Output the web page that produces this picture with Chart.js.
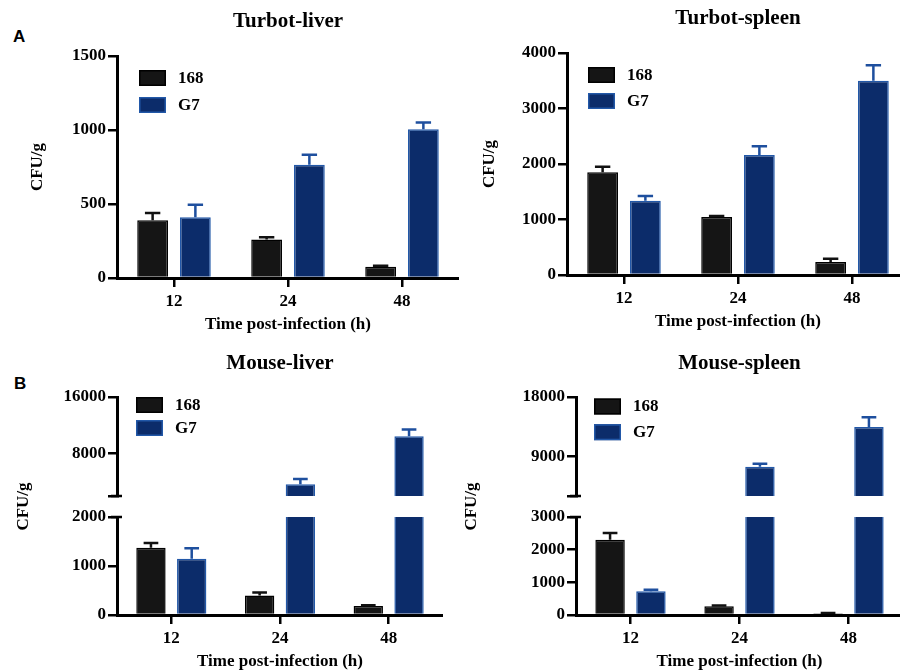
<!DOCTYPE html>
<html>
<head>
<meta charset="utf-8">
<script src="https://cdn.jsdelivr.net/npm/chart.js@4.4.1/dist/chart.umd.min.js"></script>
<style>
  html, body { margin: 0; padding: 0; background: #fff; }
  body { width: 900px; height: 670px; position: relative; overflow: hidden; }
  .panel { position: absolute; }
  .panel canvas { display: block; }
  .tag { position: absolute; font: bold 17px/17px "Liberation Sans", Arial, sans-serif; color: #000; }
</style>
</head>
<body>
<div class="tag" style="left:13px;top:28px">A</div>
<div class="tag" style="left:14px;top:375px">B</div>
<div class="panel" style="left:0;top:0"><canvas id="turbotLiver" width="459" height="340"></canvas></div>
<div class="panel" style="left:450px;top:0"><canvas id="turbotSpleen" width="459" height="338"></canvas></div>
<div class="panel" style="left:0;top:340px"><canvas id="mouseLiver" width="443" height="338"></canvas></div>
<div class="panel" style="left:450px;top:340px"><canvas id="mouseSpleen" width="453" height="338"></canvas></div>
<script>
// hours post-infection
const hours = ['12', '24', '48'];

// CFU/g, mean and upper error
const turbotLiver168 = [390, 260, 76];
const turbotLiver168Err = [50, 15, 6];
const turbotLiverG7 = [410, 765, 1005];
const turbotLiverG7Err = [85, 67, 45];

const turbotSpleen168 = [1850, 1045, 235];
const turbotSpleen168Err = [100, 20, 60];
const turbotSpleenG7 = [1340, 2160, 3500];
const turbotSpleenG7Err = [85, 160, 280];

const mouseLiver168 = [1370, 400, 185];
const mouseLiver168Err = [100, 60, 15];
const mouseLiverG7 = [1150, 3650, 10450];
const mouseLiverG7Err = [210, 750, 950];

const mouseSpleen168 = [2300, 270, 50];
const mouseSpleen168Err = [210, 20, 10];
const mouseSpleenG7 = [730, 7450, 13450];
const mouseSpleenG7Err = [40, 450, 1500];

// tick labels
const turbotLiverTicks = [0, 500, 1000, 1500];
const turbotSpleenTicks = [0, 1000, 2000, 3000, 4000];
const mouseLiverLowTicks = [0, 1000, 2000];
const mouseLiverHighTicks = [2000, 8000, 16000];
const mouseSpleenLowTicks = [0, 1000, 2000, 3000];
const mouseSpleenHighTicks = [3000, 9000, 18000];

const serif = '"Liberation Serif", "Times New Roman", serif';
const axisFont = { family: serif, size: 17, weight: 'bold' };
const titleFont = { family: serif, size: 21, weight: 'bold' };
const BLACK = '#151515';
const NAVY = '#0c2c6a';
const NAVY_EDGE = '#2258a8';

// each dataset only paints inside its own y axis (for the broken axes)
const clipToAxis = {
  id: 'clipToAxis',
  beforeDatasetDraw(chart, args) {
    const ys = chart.scales[args.meta.yAxisID];
    const a = chart.chartArea;
    chart.ctx.save();
    chart.ctx.beginPath();
    chart.ctx.rect(a.left, ys.top, a.right - a.left, ys.bottom - ys.top);
    chart.ctx.clip();
  },
  afterDatasetDraw(chart) {
    chart.ctx.restore();
  }
};

// upper half error bars
const errorBars = {
  id: 'errorBars',
  afterDatasetsDraw(chart) {
    const ctx = chart.ctx;
    chart.data.datasets.forEach((ds, i) => {
      const meta = chart.getDatasetMeta(i);
      const ys = chart.scales[meta.yAxisID];
      meta.data.forEach((bar, j) => {
        const v = ds.data[j], e = ds.errors[j];
        if (v < ys.min || v + e > ys.max) return;
        const y0 = ys.getPixelForValue(v);
        const y1 = ys.getPixelForValue(v + e);
        const half = bar.width / 4;
        ctx.save();
        ctx.strokeStyle = ds.errorColor;
        ctx.lineWidth = 2.5;
        ctx.beginPath();
        ctx.moveTo(bar.x, y0);
        ctx.lineTo(bar.x, y1);
        ctx.moveTo(bar.x - half, y1);
        ctx.lineTo(bar.x + half, y1);
        ctx.stroke();
        ctx.restore();
      });
    });
  }
};

// small caps where the y axis is broken
const breakCaps = {
  id: 'breakCaps',
  afterDraw(chart) {
    const hi = chart.scales.yHigh, lo = chart.scales.yLow;
    if (!hi || !lo) return;
    const ctx = chart.ctx;
    const x = hi.right;
    ctx.save();
    ctx.strokeStyle = '#000';
    ctx.lineWidth = 2.5;
    ctx.beginPath();
    ctx.moveTo(x - 6, hi.bottom);
    ctx.lineTo(x + 5, hi.bottom);
    ctx.moveTo(x - 6, lo.top);
    ctx.lineTo(x + 5, lo.top);
    ctx.stroke();
    ctx.restore();
  }
};

// legend boxes inside the plot, top left
const boxLegend = {
  id: 'boxLegend',
  afterDraw(chart, args, opts) {
    const ctx = chart.ctx;
    const a = chart.chartArea;
    let k = 0;
    chart.data.datasets.forEach(ds => {
      if (ds.inLegend === false) return;
      const x = a.left + opts.dx;
      const y = a.top + opts.dy + k * opts.step;
      ctx.save();
      ctx.fillStyle = ds.backgroundColor;
      ctx.fillRect(x, y, 27, 16);
      ctx.strokeStyle = ds.borderColor;
      ctx.lineWidth = 1.5;
      ctx.strokeRect(x + 0.75, y + 0.75, 25.5, 14.5);
      ctx.fillStyle = '#000';
      ctx.font = 'bold 17px ' + serif;
      ctx.textBaseline = 'middle';
      ctx.fillText(ds.label, x + 39, y + 8.5);
      ctx.restore();
      k++;
    });
  }
};

function valueAxis(ticks, width, extra) {
  return Object.assign({
    type: 'linear',
    position: 'left',
    min: ticks[0],
    max: ticks[ticks.length - 1],
    stacked: false,
    afterBuildTicks: s => { s.ticks = ticks.map(v => ({ value: v })); },
    afterFit: s => { s.width = width; },
    ticks: { color: '#000', font: axisFont, padding: 2, autoSkip: false, callback: v => String(v) },
    grid: { display: true, drawOnChartArea: false, drawTicks: true, tickLength: 9, lineWidth: 2.5, color: '#000' },
    border: { display: true, color: '#000', width: 3, z: 1 }
  }, extra);
}

function yTitle(padTop) {
  return { display: true, text: 'CFU/g', color: '#000', font: axisFont, padding: { top: padTop, bottom: 0 } };
}

function hourAxis(height, titlePad) {
  return {
    type: 'category',
    position: 'bottom',
    offset: true,
    afterFit: s => { s.height = height; },
    grid: { display: true, offset: false, drawOnChartArea: false, tickLength: 9, lineWidth: 2.5, color: '#000' },
    border: { display: true, color: '#000', width: 3, z: 1 },
    ticks: { color: '#000', font: axisFont, padding: 4 },
    title: { display: true, text: 'Time post-infection (h)', color: '#000', font: axisFont, padding: { top: 0, bottom: titlePad } }
  };
}

function bars(label, data, errors, yAxisID, stack, extra) {
  const black = label === '168';
  return Object.assign({
    label, data, errors, yAxisID, stack,
    backgroundColor: black ? BLACK : NAVY,
    borderColor: black ? '#000' : NAVY_EDGE,
    borderWidth: 1.5,
    errorColor: black ? '#111' : '#1e4f9e'
  }, extra);
}

function baseOptions(title, titlePad, legend) {
  return {
    responsive: false,
    animation: false,
    layout: { padding: 0, autoPadding: false },
    datasets: { bar: { barPercentage: 0.72, categoryPercentage: 0.75 } },
    plugins: {
      legend: { display: false },
      tooltip: { enabled: false },
      title: { display: true, text: title, color: '#000', font: titleFont, fullSize: false, padding: titlePad },
      boxLegend: legend
    }
  };
}

const plugins = [clipToAxis, errorBars, breakCaps, boxLegend];

// Turbot-liver
const optTL = baseOptions('Turbot-liver', { top: 9.1, bottom: 21.7 }, { dx: 22, dy: 14, step: 27 });
optTL.scales = {
  x: hourAxis(62, 4.8),
  y: valueAxis(turbotLiverTicks, 117, { title: yTitle(27.8) })
};
new Chart(document.getElementById('turbotLiver'), {
  type: 'bar',
  data: {
    labels: hours,
    datasets: [
      bars('168', turbotLiver168, turbotLiver168Err, 'y', 'a'),
      bars('G7', turbotLiverG7, turbotLiverG7Err, 'y', 'b')
    ]
  },
  options: optTL,
  plugins
});

// Turbot-spleen
const optTS = baseOptions('Turbot-spleen', { top: 5.7, bottom: 22.1 }, { dx: 21, dy: 14, step: 26 });
optTS.scales = {
  x: hourAxis(63, 6.1),
  y: valueAxis(turbotSpleenTicks, 117, { title: yTitle(29.1) })
};
new Chart(document.getElementById('turbotSpleen'), {
  type: 'bar',
  data: {
    labels: hours,
    datasets: [
      bars('168', turbotSpleen168, turbotSpleen168Err, 'y', 'a'),
      bars('G7', turbotSpleenG7, turbotSpleenG7Err, 'y', 'b')
    ]
  },
  options: optTS,
  plugins
});

// broken y axis: upper part, gap (carries the title), lower part
function brokenScales(lowTicks, highTicks, width, titlePad) {
  return {
    x: hourAxis(63, 6.1),
    yHigh: valueAxis(highTicks, width, {
      stack: 'cfu', stackWeight: 99, weight: 3,
      ticks: { color: '#000', font: axisFont, padding: 2, autoSkip: false, callback: v => v === highTicks[0] ? '' : String(v) }
    }),
    yGap: {
      type: 'linear', axis: 'y', position: 'left', stacked: false,
      stack: 'cfu', stackWeight: 21, weight: 2,
      afterFit: s => { s.width = width; },
      ticks: { display: false },
      grid: { display: false },
      border: { display: false },
      title: yTitle(titlePad)
    },
    yLow: valueAxis(lowTicks, width, { stack: 'cfu', stackWeight: 98, weight: 1 })
  };
}

// Mouse-liver
const optML = baseOptions('Mouse-liver', { top: 10.7, bottom: 21.1 }, { dx: 19, dy: 0, step: 23 });
optML.scales = brokenScales(mouseLiverLowTicks, mouseLiverHighTicks, 117, 13.1);
new Chart(document.getElementById('mouseLiver'), {
  type: 'bar',
  data: {
    labels: hours,
    datasets: [
      bars('168', mouseLiver168, mouseLiver168Err, 'yLow', 'a'),
      bars('G7', mouseLiverG7, mouseLiverG7Err, 'yLow', 'b'),
      bars('G7', mouseLiverG7, mouseLiverG7Err, 'yHigh', 'b', { inLegend: false })
    ]
  },
  options: optML,
  plugins
});

// Mouse-spleen
const optMS = baseOptions('Mouse-spleen', { top: 11.4, bottom: 20.4 }, { dx: 18, dy: 1.5, step: 25.7 });
optMS.scales = brokenScales(mouseSpleenLowTicks, mouseSpleenHighTicks, 126, 11.5);
new Chart(document.getElementById('mouseSpleen'), {
  type: 'bar',
  data: {
    labels: hours,
    datasets: [
      bars('168', mouseSpleen168, mouseSpleen168Err, 'yLow', 'a'),
      bars('G7', mouseSpleenG7, mouseSpleenG7Err, 'yLow', 'b'),
      bars('G7', mouseSpleenG7, mouseSpleenG7Err, 'yHigh', 'b', { inLegend: false })
    ]
  },
  options: optMS,
  plugins
});
</script>
</body>
</html>
